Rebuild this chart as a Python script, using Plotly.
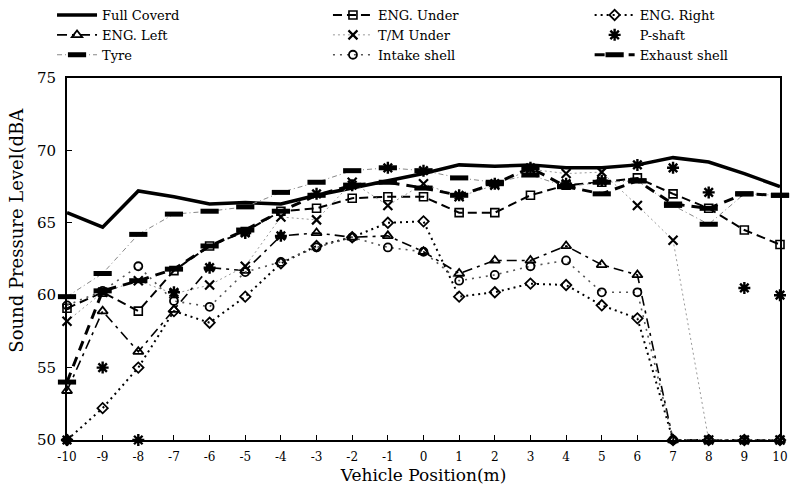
import plotly.graph_objects as go

positions = list(range(-10, 11))

full_coverd = [65.7, 64.7, 67.2, 66.8, 66.3, 66.4, 66.3, 66.9, 67.4, 67.9, 68.4, 69.0, 68.9, 69.0, 68.8, 68.8, 69.0, 69.5, 69.2, 68.4, 67.5]
eng_under = [59.1, 60.2, 58.9, 61.7, 63.4, 64.4, 65.8, 66.0, 66.7, 66.8, 66.8, 65.7, 65.7, 66.9, 67.6, 67.8, 68.1, 67.0, 66.0, 64.5, 63.5]
eng_right = [50.0, 52.2, 55.0, 58.9, 58.1, 59.9, 62.2, 63.4, 64.0, 65.0, 65.1, 59.9, 60.2, 60.8, 60.7, 59.3, 58.4, 50.0, 50.0, 50.0, 50.0]
eng_left = [53.4, 58.9, 56.1, 59.0, 61.9, 61.7, 64.1, 64.3, 64.0, 64.1, 63.0, 61.5, 62.4, 62.4, 63.4, 62.1, 61.4, 50.0, 50.0, 50.0, 50.0]
tm_under = [58.2, 60.2, 61.0, 60.1, 60.7, 62.0, 65.4, 65.2, 67.8, 66.2, 67.7, 66.8, 67.6, 68.7, 68.4, 68.5, 66.2, 63.8, 50.0, 50.0, 50.0]
p_shaft = [50.0, 55.0, 50.0, 60.2, 61.9, 64.3, 64.1, 67.0, 67.6, 68.8, 68.6, 66.9, 67.7, 68.8, 67.7, 67.9, 69.0, 68.8, 67.1, 60.5, 60.0]
tyre = [59.9, 61.5, 64.2, 65.6, 65.8, 66.1, 67.1, 67.8, 68.6, 68.8, 68.6, 68.1, 67.8, 68.3, 67.5, 67.8, 67.9, 66.2, 64.9, 67.0, 66.9]
intake_shell = [59.3, 60.3, 62.0, 59.6, 59.2, 61.6, 62.3, 63.3, 64.0, 63.3, 63.0, 61.0, 61.4, 62.0, 62.4, 60.2, 60.2, 50.0, 50.0, 50.0, 50.0]
exhaust_shell = [54.0, 60.3, 61.0, 61.8, 63.4, 64.5, 65.8, 66.9, 67.6, 67.8, 67.4, 66.9, 67.7, 68.8, 67.5, 67.0, 67.9, 66.3, 66.0, 67.0, 66.9]

x_ticks = list(range(-10, 11))
y_ticks = [50, 55, 60, 65, 70, 75]

# (name, values, line, marker, mode, legend column)
series = [
    ("Full Coverd", full_coverd, dict(color="black", width=3.5, dash="solid"), None, "lines", "legend"),
    ("ENG. Under", eng_under, dict(color="black", width=2, dash="9px,5px"),
     dict(symbol="square-open", size=8, color="black", line=dict(width=1.6)), "lines+markers", "legend2"),
    ("ENG. Right", eng_right, dict(color="black", width=2, dash="2px,4px"),
     dict(symbol="diamond-open", size=8, color="black", line=dict(width=1.8)), "lines+markers", "legend3"),
    ("ENG. Left", eng_left, dict(color="black", width=1.6, dash="10px,5px,3px,5px"),
     dict(symbol="triangle-up-open", size=9, color="black", line=dict(width=1.8)), "lines+markers", "legend"),
    ("T/M Under", tm_under, dict(color="#999999", width=1, dash="2px,3px"),
     dict(symbol="x-thin-open", size=9, color="black", line=dict(width=2.2)), "lines+markers", "legend2"),
    ("P-shaft", p_shaft, None,
     dict(symbol="asterisk-open", size=10, color="black", line=dict(width=2.4)), "markers", "legend3"),
    ("Tyre", tyre, dict(color="#888888", width=1, dash="5px,3px,1px,3px"),
     dict(symbol="line-ew-open", size=13, color="black", line=dict(width=5)), "lines+markers", "legend"),
    ("Intake shell", intake_shell, dict(color="#555555", width=1.6, dash="2px,5px"),
     dict(symbol="circle-open", size=8, color="black", line=dict(width=1.8)), "lines+markers", "legend2"),
    ("Exhaust shell", exhaust_shell, dict(color="black", width=3, dash="10px,7px"),
     dict(symbol="line-ew-open", size=13, color="black", line=dict(width=5)), "lines+markers", "legend3"),
]

fig = go.Figure()
for name, vals, line, marker, mode, leg in series:
    kw = dict(x=positions, y=vals, name=name, mode=mode, cliponaxis=False, legend=leg)
    if line is not None:
        kw["line"] = line
    if marker is not None:
        kw["marker"] = marker
    fig.add_trace(go.Scatter(**kw))

serif = "DejaVu Serif"


def legend_box(xpos):
    return dict(
        orientation="v", x=xpos, xanchor="left", y=1.004, yref="container", yanchor="top",
        font=dict(family=serif, size=13, color="black"),
        bgcolor="rgba(0,0,0,0)", tracegroupgap=0, itemwidth=40,
        borderwidth=0,
    )


fig.update_layout(
    width=790, height=489,
    margin=dict(l=67, r=10, t=78, b=49, autoexpand=False),
    paper_bgcolor="white", plot_bgcolor="white",
    font=dict(family=serif, color="black", size=13),
    showlegend=True,
    legend=legend_box(-0.021),
    legend2=legend_box(0.366),
    legend3=legend_box(0.733),
    xaxis=dict(
        range=[-10, 10], tickvals=x_ticks, ticktext=[str(v) for v in x_ticks],
        showgrid=False, zeroline=False, showline=True, linecolor="black", linewidth=2,
        mirror=True, ticks="inside", ticklen=5, tickcolor="black",
        tickfont=dict(family=serif, size=12), ticklabelstandoff=5,
        title=dict(text="Vehicle Position(m)", font=dict(family=serif, size=17), standoff=6),
    ),
    yaxis=dict(
        range=[50, 75], tickvals=y_ticks,
        showgrid=False, zeroline=False, showline=True, linecolor="black", linewidth=2,
        mirror=True, ticks="inside", ticklen=5, tickcolor="black",
        tickfont=dict(family=serif, size=15), ticklabelstandoff=6,
    ),
    annotations=[dict(
        text="Sound Pressure Level(dBA", textangle=-90, xref="paper", yref="paper",
        x=-0.072, y=0.58, xanchor="center", yanchor="middle", showarrow=False,
        font=dict(family=serif, size=18, color="black"),
    )],
)

fig.write_html("out.html", config={"displayModeBar": False},
               post_script="document.body.style.margin='0';")
